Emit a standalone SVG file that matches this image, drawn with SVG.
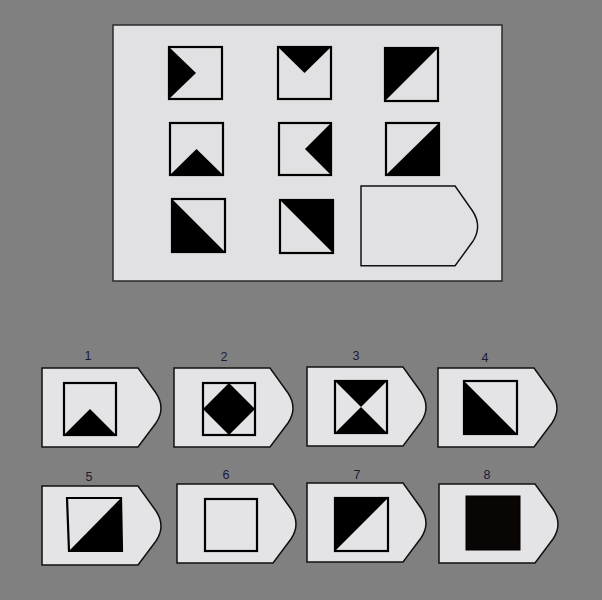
<svg xmlns="http://www.w3.org/2000/svg" width="602" height="600" viewBox="0 0 602 600">
<style>
.bg{fill:#808080}
.panel{fill:#e1e0e2;stroke:#2a2a2a;stroke-width:1.5}
.pent{fill:#e4e3e5;stroke:#111;stroke-width:1.5}
.sq{fill:none;stroke:#000;stroke-width:2.2}
.blk{fill:#000}
.lbl{font-family:"Liberation Sans",Arial,sans-serif;font-size:12.5px;fill:#1b1b38;text-anchor:middle}
</style>
<defs>
<path id="tab" d="M0,0 H96 L114,25 Q124,40 114,55 L96,79 H0 Z"/>
</defs>
<rect class="bg" x="0" y="0" width="602" height="600"/>
<g id="matrix">
<rect class="panel" x="113" y="25" width="389" height="256"/>
<g id="cell1"><polygon class="blk" points="169,47 169,99 196,73"/><rect class="sq" x="169" y="47" width="53" height="52"/></g>
<g id="cell2"><polygon class="blk" points="278,47 331,47 304.5,73"/><rect class="sq" x="278" y="47" width="53" height="52"/></g>
<g id="cell3"><polygon class="blk" points="385,48 438,48 385,101"/><rect class="sq" x="385" y="48" width="53" height="53"/></g>
<g id="cell4"><polygon class="blk" points="170,175 223,175 196.5,149"/><rect class="sq" x="170" y="123" width="53" height="52"/></g>
<g id="cell5"><polygon class="blk" points="331,123 331,175 305,149"/><rect class="sq" x="279" y="123" width="52" height="52"/></g>
<g id="cell6"><polygon class="blk" points="439,123 439,175 386,175"/><rect class="sq" x="386" y="123" width="53" height="52"/></g>
<g id="cell7"><polygon class="blk" points="172,199 172,252 225,252"/><rect class="sq" x="172" y="199" width="53" height="53"/></g>
<g id="cell8"><polygon class="blk" points="280,200 333,200 333,253"/><rect class="sq" x="280" y="200" width="53" height="53"/></g>
<g id="cell9"><use href="#tab" class="pent" transform="translate(361,186) scale(0.98,1.01)" style="fill:#e1e0e2"/></g>
</g>
<g id="option1">
<text class="lbl" x="88" y="359.5">1</text>
<use href="#tab" class="pent" transform="translate(42,368)"/>
<polygon class="blk" points="64,435 116,435 90,409"/>
<rect class="sq" x="64" y="383" width="52" height="52"/>
</g>
<g id="option2">
<text class="lbl" x="224" y="360.5">2</text>
<use href="#tab" class="pent" transform="translate(174,368)"/>
<polygon class="blk" points="229,383 255,409 229,435 203,409"/>
<rect class="sq" x="203" y="383" width="52" height="52"/>
</g>
<g id="option3">
<text class="lbl" x="356" y="360">3</text>
<use href="#tab" class="pent" transform="translate(307,367)"/>
<polygon class="blk" points="335,381 387,381 361,407"/>
<polygon class="blk" points="335,433 387,433 361,407"/>
<rect class="sq" x="335" y="381" width="52" height="52"/>
</g>
<g id="option4">
<text class="lbl" x="485" y="361.5">4</text>
<use href="#tab" class="pent" transform="translate(438,368)"/>
<polygon class="blk" points="464,381 464,434 517,434"/>
<rect class="sq" x="464" y="381" width="53" height="53"/>
</g>
<g id="option5">
<text class="lbl" x="89" y="480.5">5</text>
<use href="#tab" class="pent" transform="translate(42,486)"/>
<polygon class="blk" points="121,498 122,551 69,551"/>
<polygon class="sq" points="67,498 121,498 122,551 69,551"/>
</g>
<g id="option6">
<text class="lbl" x="226" y="478.5">6</text>
<use href="#tab" class="pent" transform="translate(177,484)"/>
<rect class="sq" x="205" y="499" width="52" height="52"/>
</g>
<g id="option7">
<text class="lbl" x="357" y="478.5">7</text>
<use href="#tab" class="pent" transform="translate(307,483)"/>
<polygon class="blk" points="335,498 388,498 335,551"/>
<rect class="sq" x="335" y="498" width="53" height="53"/>
</g>
<g id="option8">
<text class="lbl" x="487" y="478.5">8</text>
<use href="#tab" class="pent" transform="translate(439,484)"/>
<rect x="466" y="496" width="54" height="54" fill="#0a0505" stroke="#000" stroke-width="1"/>
</g>
</svg>
